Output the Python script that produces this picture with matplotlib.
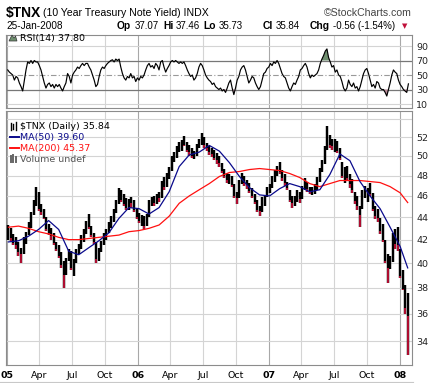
import numpy as np
import pandas as pd
import matplotlib
matplotlib.use("Agg")
import matplotlib.pyplot as plt
from matplotlib.patches import Polygon
from matplotlib.lines import Line2D

# ---- data (weekly, $TNX x10) ----
hi = [43.3, 43.0, 42.5, 42.2, 41.8, 41.3, 42.2, 42.7, 43.6, 44.5,
      45.6, 46.9, 46.4, 45.2, 44.8, 44.0, 43.4, 43.0, 42.6, 41.8,
      41.5, 40.9, 40.2, 40.4, 41.2, 41.0, 40.3, 41.2, 41.6, 42.4,
      42.9, 43.7, 44.3, 43.2, 42.6, 41.8, 41.3, 41.9, 42.6, 42.9,
      43.6, 44.1, 44.8, 45.6, 46.8, 46.6, 46.2, 45.8, 45.7, 45.9,
      45.6, 44.8, 44.4, 44.2, 44.1, 44.3, 45.6, 45.9, 46.0, 46.2,
      46.4, 47.5, 47.9, 48.3, 48.9, 50.0, 50.4, 51.0, 51.5, 51.7,
      52.1, 51.5, 51.2, 50.8, 50.5, 51.3, 51.8, 52.4, 52.0, 51.4,
      51.0, 50.8, 50.6, 50.3, 50.0, 49.3, 48.7, 48.3, 48.2, 48.0,
      47.2, 46.4, 47.6, 48.3, 48.0, 47.6, 47.3, 46.8, 46.2, 45.6,
      45.0, 45.9, 46.1, 46.9, 47.2, 48.0, 48.6, 49.0, 49.4, 48.6,
      48.2, 47.4, 46.6, 46.0, 46.0, 46.6, 46.4, 47.0, 47.8, 47.4,
      46.9, 46.9, 47.2, 47.9, 48.8, 49.6, 51.0, 53.2, 52.2, 51.8,
      51.8, 51.6, 50.8, 49.4, 48.9, 49.0, 48.2, 47.7, 46.4, 46.0,
      45.0, 46.6, 47.0, 46.8, 47.3, 46.3, 45.0, 44.8, 43.9, 43.4,
      42.0, 40.8, 40.6, 42.6, 42.9, 43.1, 41.2, 39.4, 38.2, 37.6]
lo = [42.0, 41.9, 41.5, 41.2, 40.6, 40.0, 40.8, 41.6, 42.4, 43.0,
      44.2, 45.0, 44.6, 44.2, 43.8, 42.8, 42.4, 42.0, 41.5, 41.0,
      40.4, 39.6, 38.0, 39.0, 40.2, 39.4, 38.9, 40.0, 40.8, 41.2,
      41.8, 42.5, 42.9, 42.2, 41.6, 40.0, 40.2, 40.9, 41.5, 42.0,
      42.6, 43.0, 43.6, 44.4, 45.2, 45.4, 45.0, 44.7, 44.7, 44.9,
      44.5, 43.8, 43.5, 43.2, 42.9, 43.2, 44.0, 45.0, 45.0, 45.2,
      45.4, 45.8, 46.6, 46.9, 47.7, 48.5, 49.4, 49.8, 50.4, 50.5,
      51.0, 50.4, 50.0, 49.8, 49.7, 50.0, 50.8, 51.2, 50.8, 50.5,
      50.1, 49.9, 49.6, 49.2, 48.9, 48.3, 47.8, 47.3, 47.2, 46.9,
      45.8, 45.2, 45.8, 47.2, 47.0, 46.7, 46.3, 45.8, 45.2, 44.5,
      44.1, 44.5, 45.0, 45.9, 46.3, 46.8, 47.4, 48.0, 48.2, 47.5,
      47.0, 46.6, 45.4, 44.9, 45.0, 45.4, 45.3, 45.7, 46.6, 46.4,
      46.2, 46.1, 46.2, 46.6, 47.4, 48.4, 49.2, 50.6, 50.8, 50.6,
      50.4, 50.3, 49.6, 47.8, 47.3, 47.6, 46.8, 46.3, 45.2, 44.7,
      43.1, 44.8, 45.8, 45.4, 46.0, 44.6, 43.8, 43.6, 42.5, 41.8,
      40.0, 38.4, 39.5, 40.1, 41.2, 41.0, 38.8, 37.8, 36.0, 33.0]
cl = [42.7, 42.1, 41.7, 41.5, 40.9, 40.8, 42.0, 42.5, 43.3, 44.2,
      45.4, 46.2, 44.8, 44.5, 43.9, 42.9, 42.6, 42.3, 41.7, 41.2,
      40.6, 39.8, 39.0, 40.1, 40.9, 39.6, 40.0, 41.0, 41.3, 42.2,
      42.7, 43.5, 43.1, 42.4, 41.8, 40.3, 41.0, 41.7, 42.3, 42.7,
      43.4, 43.8, 44.6, 45.3, 46.4, 45.6, 45.2, 44.9, 45.4, 45.3,
      44.7, 44.0, 43.7, 43.9, 43.2, 44.1, 45.4, 45.7, 45.3, 46.0,
      45.8, 47.3, 46.9, 48.1, 48.6, 49.8, 50.1, 50.8, 51.1, 51.4,
      51.2, 50.6, 50.4, 50.0, 50.2, 51.0, 51.6, 51.7, 51.1, 50.8,
      50.4, 50.2, 49.8, 49.6, 49.3, 48.5, 48.0, 47.6, 47.9, 47.1,
      46.0, 45.8, 47.4, 47.9, 47.3, 47.1, 46.5, 46.0, 45.4, 44.7,
      44.6, 45.7, 45.9, 46.8, 46.9, 47.8, 48.3, 48.8, 48.4, 47.8,
      47.3, 46.8, 45.6, 45.3, 45.7, 46.2, 45.7, 46.8, 47.3, 46.7,
      46.5, 46.6, 46.9, 47.7, 48.6, 49.4, 50.8, 51.6, 51.2, 51.0,
      51.4, 50.5, 49.8, 48.0, 48.4, 47.8, 47.2, 46.6, 45.5, 45.0,
      44.2, 46.2, 46.3, 46.5, 46.2, 44.8, 44.1, 43.9, 42.8, 42.0,
      40.2, 39.6, 40.0, 42.3, 41.6, 41.5, 38.9, 37.9, 36.4, 35.84]

# moving averages sampled every 4 weeks, last point = 25-Jan-2008
ma_wk = list(range(0, 160, 4)) + [159]
ma50 = [41.8, 41.9, 42.3, 42.9, 43.7, 42.9, 41.0, 40.7, 41.3, 41.9,
        42.6, 43.9, 44.9, 44.8, 44.3, 44.9, 46.4, 48.9, 50.1, 50.4,
        51.1, 50.5, 49.3, 47.9, 46.8, 46.1, 46.0, 46.7, 47.2, 46.9,
        46.4, 46.6, 48.1, 50.2, 49.5, 47.4, 46.0, 44.8, 43.1, 41.4, 39.6]
ma200 = [43.1, 43.2, 43.0, 42.7, 42.5, 42.2, 42.0, 42.0, 42.1, 42.2,
         42.3, 42.4, 42.7, 42.8, 43.0, 43.3, 44.1, 45.3, 46.0, 46.6,
         47.2, 47.9, 48.3, 48.4, 48.6, 48.7, 48.6, 48.5, 48.2, 47.8,
         47.2, 46.9, 47.2, 47.5, 47.5, 47.5, 47.4, 47.3, 46.9, 46.3, 45.37]

# RSI(14), evenly sampled from 3-Jan-2005 to 25-Jan-2008
rsi = [57, 54, 52, 50, 43, 48, 46, 39, 34, 28, 43, 57, 68, 66, 70, 66, 70, 68, 68, 63,
       57, 48, 39, 32, 37, 39, 34, 37, 32, 37, 34, 37, 32, 28, 34, 39, 52, 48, 39, 50,
       54, 57, 61, 59, 63, 66, 63, 66, 66, 61, 57, 50, 43, 34, 37, 48, 57, 61, 59, 63,
       66, 68, 70, 71, 68, 72, 70, 72, 61, 52, 46, 43, 48, 46, 52, 46, 48, 41, 46, 43,
       48, 46, 50, 57, 63, 66, 61, 63, 59, 66, 63, 57, 68, 70, 61, 54, 59, 63, 68, 70,
       68, 70, 68, 66, 68, 66, 68, 63, 57, 52, 48, 50, 43, 46, 52, 61, 66, 63, 57, 50,
       46, 43, 41, 37, 39, 34, 32, 30, 32, 28, 30, 26, 32, 39, 43, 32, 23, 32, 43, 48,
       57, 61, 63, 57, 48, 39, 43, 48, 46, 39, 34, 30, 34, 43, 52, 54, 59, 61, 66, 63,
       68, 66, 70, 66, 59, 52, 48, 46, 39, 32, 28, 34, 39, 37, 43, 48, 57, 59, 63, 66,
       61, 52, 46, 50, 48, 50, 52, 57, 66, 72, 77, 83, 86, 74, 68, 61, 63, 54, 57, 50,
       48, 41, 32, 28, 32, 43, 37, 34, 39, 32, 34, 28, 34, 43, 52, 57, 59, 52, 43, 34,
       37, 32, 41, 39, 32, 30, 30, 26, 21, 30, 39, 50, 57, 54, 52, 43, 37, 34, 30, 28,
       26, 37.8]

quarters = pd.date_range("2005-01-01", "2008-01-01", freq="QS")

# ---- geometry helpers (pixel -> figure fraction) ----
W, H = 431, 383
def fx(px):
    return px / W
def fy(py):
    return 1 - py / H

base = pd.Timestamp("2005-01-01")
n_wk = len(cl)
wk = np.arange(n_wk)
xb = 4 + 7 * wk                      # mid-week, days since 2005-01-01
x_ma = 4 + 7 * np.array(ma_wk)
x_rsi = np.linspace(2, 1119, len(rsi))
qx = [(q - base).days for q in quarters]
qlab = [f"{q.year % 100:02d}" if q.month == 1 else q.strftime("%b") for q in quarters]
xlim = (-2.8, 1129)

fig = plt.figure(figsize=(W / 100, H / 100), dpi=100)
fig.patch.set_facecolor("white")

grid_c = "#d4d4d4"
year_c = "#a8a8a8"
frame_c = "#8c8c8c"

def style_panel(a):
    a.set_xlim(*xlim)
    for q, lab in zip(qx, qlab):
        a.axvline(q, color=year_c if lab.isdigit() else grid_c, lw=0.8, zorder=0)
    for s in a.spines.values():
        s.set_color(frame_c)
        s.set_linewidth(0.8)
    a.yaxis.tick_right()
    a.tick_params(axis="y", length=0, pad=3, labelsize=6.8, labelcolor="#222222")

# ---- RSI panel ----
ax_r = fig.add_axes([fx(6), fy(108), fx(406), 73 / H])
style_panel(ax_r)
ax_r.set_ylim(4.5, 105.2)
ax_r.set_yticks([10, 30, 50, 70, 90])
ax_r.set_xticks([])
for v in (10, 90):
    ax_r.axhline(v, color=grid_c, lw=0.8, zorder=0)
ax_r.axhline(70, color="#777777", lw=0.9, zorder=1)
ax_r.axhline(30, color="#777777", lw=0.9, zorder=1)
ax_r.axhline(50, color="#999999", lw=0.8, ls=(0, (5, 2, 1, 2)), zorder=1)
r = np.array(rsi, dtype=float)
ax_r.fill_between(x_rsi, r, 70, where=r > 70, interpolate=True, color="#6f8f6f", lw=0, zorder=2)
ax_r.fill_between(x_rsi, r, 30, where=r < 30, interpolate=True, color="#b88a98", lw=0, zorder=2)
ax_r.plot(x_rsi, r, color="black", lw=0.85, zorder=3)

# ---- price panel ----
ax = fig.add_axes([fx(6), fy(365), fx(406), 254 / H])
style_panel(ax)
ax.set_yscale("log")
ax.set_ylim(32.35, 54.9)
ticks = list(range(34, 54, 2))
ax.set_yticks(ticks)
ax.set_yticklabels([str(t) for t in ticks])
ax.yaxis.set_minor_locator(matplotlib.ticker.NullLocator())
for t in range(34, 56, 2):
    ax.axhline(t, color=grid_c, lw=0.8, zorder=0)

# bars: black, with the part below the close in red for down weeks
hi_a, lo_a, cl_a = np.array(hi), np.array(lo), np.array(cl)
down = np.r_[False, cl_a[1:] < cl_a[:-1]]
ax.vlines(xb, lo_a, hi_a, colors="black", lw=1.75, zorder=3)
ax.vlines(xb[down], lo_a[down], cl_a[down], colors="#d0103a", lw=1.2, zorder=3)
ax.plot(x_ma, ma200, color="#ff1010", lw=0.9, zorder=4)
ax.plot(x_ma, ma50, color="#0a0a8c", lw=0.9, zorder=4)

ax.set_xticks(qx)
ax.set_xticklabels(qlab)
ax.tick_params(axis="x", length=0, pad=4, labelsize=6.8)
for lab in ax.get_xticklabels():
    if lab.get_text().isdigit():
        lab.set_fontweight("bold")

# ---- header ----
fig.text(fx(6), fy(13), "$TNX", fontsize=10, fontweight="bold", va="center",
         family="Liberation Sans")
fig.text(fx(43), fy(13.5), "(10 Year Treasury Note Yield) INDX", fontsize=7.6,
         va="center", family="Liberation Sans")
fig.text(fx(412), fy(13.5), "\u00a9StockCharts.com", fontsize=7.6, va="center",
         ha="right", color="#444444", family="Liberation Sans")
fig.text(fx(6), fy(26), "25-Jan-2008", fontsize=7.2, va="center", family="Liberation Sans")
quote = [("Op", 117, True), ("37.07", 135, False), ("Hi", 163, True), ("37.46", 176, False),
         ("Lo", 203, True), ("35.73", 219, False), ("Cl", 263, True), ("35.84", 276, False),
         ("Chg", 310, True), ("-0.56 (-1.54%)", 333, False)]
for s, px, bold in quote:
    fig.text(fx(px), fy(26), s, fontsize=7.4 if bold else 7.0, va="center",
             fontweight="bold" if bold else "normal", family="Liberation Sans")
fig.text(fx(405), fy(26.5), "\u25bc", fontsize=5, va="center", ha="center", color="#c0103a")

# ---- panel legends ----
fig.add_artist(Polygon([[fx(9), fy(41)], [fx(12), fy(35)], [fx(14), fy(38)],
                        [fx(15.5), fy(36)], [fx(17), fy(41)]],
                       closed=True, transform=fig.transFigure, facecolor="#6f8f6f",
                       edgecolor="#333333", lw=0.5))
fig.text(fx(20), fy(38.5), "RSI(14) 37.80", fontsize=6.8, va="center")

for bx, b0, b1 in [(11, 123, 130), (13.5, 124, 129), (16, 122, 130)]:
    fig.add_artist(Line2D([fx(bx), fx(bx)], [fy(b0), fy(b1)], color="black", lw=1.0,
                          transform=fig.transFigure))
fig.text(fx(20), fy(126.5), "$TNX (Daily) 35.84", fontsize=6.8, va="center")
fig.add_artist(Line2D([fx(10), fx(19)], [fy(137), fy(137)], color="#0a0a8c", lw=1.4,
                      transform=fig.transFigure))
fig.text(fx(20), fy(137.5), "MA(50) 39.60", fontsize=6.8, va="center", color="#0a0a8c")
fig.add_artist(Line2D([fx(10), fx(19)], [fy(148), fy(148)], color="#ff1010", lw=1.4,
                      transform=fig.transFigure))
fig.text(fx(20), fy(148.5), "MA(200) 45.37", fontsize=6.8, va="center", color="#ff1010")
for bx, b0 in [(11, 156), (13.5, 155), (16, 157)]:
    fig.add_artist(Line2D([fx(bx), fx(bx)], [fy(b0), fy(162)], color="#666666", lw=1.4,
                          transform=fig.transFigure))
fig.text(fx(20), fy(159.5), "Volume undef", fontsize=6.8, va="center", color="#555555")

fig.add_artist(Line2D([0, fx(413)], [fy(381.5), fy(381.5)], color="#c8c8c8", lw=0.8,
                      transform=fig.transFigure))

fig.savefig("out.png", dpi=100)
